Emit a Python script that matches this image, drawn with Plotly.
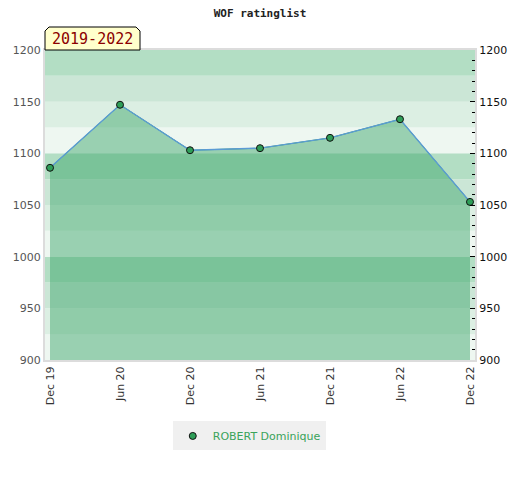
import plotly.graph_objects as go

# ---- data ----
periods = ["Dec 19", "Jun 20", "Dec 20", "Jun 21", "Dec 21", "Jun 22", "Dec 22"]
ratings = [1086, 1147, 1103, 1105, 1115, 1133, 1053]
player = "ROBERT Dominique"
title_text = "WOF ratinglist"
period_label = "2019-2022"
y_ticks = [900, 950, 1000, 1050, 1100, 1150, 1200]
band_step = 25
band_colors = ["#eef7f1", "#dcefe3", "#cbe6d6", "#b3dec4"]  # x00-x25, x25-x50, x50-x75, x75-x00

xs = list(range(len(periods)))

fig = go.Figure()

# filled area (green outline gives the vertical edge lines)
fig.add_trace(go.Scatter(
    x=xs, y=ratings, mode="lines", fill="tozeroy",
    fillcolor="rgba(61,165,106,0.48)",
    line=dict(color="#3aa35a", width=1),
    showlegend=False, hoverinfo="skip"))
# blue rating line
fig.add_trace(go.Scatter(
    x=xs, y=ratings, mode="lines",
    line=dict(color="#5b9bd5", width=1.4),
    showlegend=False, hoverinfo="skip"))
# markers (legend entry)
fig.add_trace(go.Scatter(
    x=xs, y=ratings, mode="markers", name=player,
    marker=dict(size=7, color="#2e9e58", line=dict(color="#111", width=1))))
# dummy trace for right axis
fig.add_trace(go.Scatter(x=xs, y=ratings, yaxis="y2", mode="none",
                         showlegend=False, hoverinfo="skip"))

shapes = []
lo, hi = y_ticks[0], y_ticks[-1]
y = lo
i = 0
while y < hi:
    shapes.append(dict(type="rect", xref="paper", yref="y", x0=0, x1=1,
                       y0=y, y1=y + band_step, fillcolor=band_colors[i % 4],
                       line=dict(width=0), layer="below"))
    y += band_step
    i += 1

# label box with cut corners above plot
bx1 = 95 / 430
cx = 4 / 430
cy = 4 / 310
top = 1 + 23 / 310
shapes.append(dict(type="path", xref="paper", yref="paper",
                   path=f"M 0,1 L 0,{top - cy} L {cx},{top} L {bx1 - cx},{top} L {bx1},{top - cy} L {bx1},1 Z",
                   fillcolor="#ffffcc", line=dict(color="#000", width=1)))

fig.update_layout(
    width=520, height=480,
    margin=dict(l=45, r=45, t=50, b=120, autoexpand=False),
    paper_bgcolor="white", plot_bgcolor="white",
    title=dict(text=title_text, x=0.5, xanchor="center", y=0.973, yanchor="middle",
               font=dict(family="DejaVu Sans Mono", size=11, color="#222", weight="bold")),
    shapes=shapes,
    annotations=[dict(text=period_label, xref="paper", yref="paper",
                      x=bx1 / 2, y=1 + 11 / 310, xanchor="center", yanchor="middle",
                      showarrow=False,
                      font=dict(family="DejaVu Sans Mono", size=15, color="#8b0000"))],
    xaxis=dict(range=[-0.0716, 6.0716], tickmode="array", tickvals=xs, ticktext=periods,
               tickangle=-90, showgrid=False, zeroline=False, automargin=False,
               showline=True, mirror=True, linecolor="#dcdcdc", linewidth=2,
               tickfont=dict(family="DejaVu Sans", size=11, color="#333"), ticks=""),
    yaxis=dict(range=[lo, hi], tickvals=y_ticks, showgrid=False, zeroline=False, automargin=False,
               showline=True, linecolor="#dcdcdc", linewidth=2, ticks="",
               tickfont=dict(family="DejaVu Sans", size=11, color="#555")),
    yaxis2=dict(range=[lo, hi], tickvals=y_ticks, overlaying="y", side="right", automargin=False,
                showgrid=False, zeroline=False, showline=True, linecolor="#dcdcdc", linewidth=2,
                ticks="inside", ticklen=5, tickcolor="#000",
                minor=dict(dtick=10, ticks="inside", ticklen=3, tickcolor="#000"),
                tickfont=dict(family="DejaVu Sans", size=11, color="#111")),
    legend=dict(orientation="h", x=0.475, xanchor="center", y=-0.245, yanchor="middle",
                itemwidth=30, bgcolor="#f0f0f0",
                font=dict(family="DejaVu Sans", size=11, color="#3aa35a")),
)

fig.write_html("out.html", config={"displayModeBar": False},
               post_script="document.body.style.margin='0';document.body.style.overflow='hidden';")
